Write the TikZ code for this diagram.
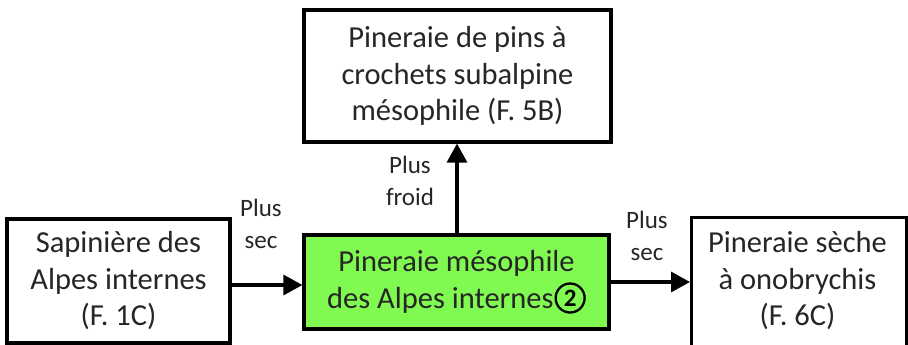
\documentclass[tikz,border=0pt]{standalone}
\usepackage{fontspec}
\setmainfont{Carlito}
\usetikzlibrary{arrows.meta}
\definecolor{boxgreen}{RGB}{128,250,80}
\definecolor{txt}{RGB}{38,38,38}
\tikzset{
  box/.style={draw=black, line width=3.2pt, fill=white, align=center, inner sep=0pt,
    text=txt, font=\fontsize{30.5}{36.5}\selectfont},
  lab/.style={align=center, text=txt, font=\fontsize{25}{32}\selectfont, inner sep=0pt},
  arr/.style={line width=3.2pt, -{Triangle[length=19pt,width=20pt]}},
  numcirc/.style={draw=black, circle, line width=2.3pt, minimum size=29pt, inner sep=0pt,
    text=black, font=\bfseries\fontsize{25}{25}\selectfont}
}
\newcommand{\circnum}[1]{\tikz[baseline={([yshift=-10pt]cn.center)}]\node[numcirc] (cn) {#1};}
\begin{document}
\begin{tikzpicture}[x=1pt,y=-1pt]
\useasboundingbox (0,0) rectangle (908,345);
\begin{scope}
\clip (0,0) rectangle (908,345);
\node[box, minimum width=307pt, minimum height=132pt] (top) at (457.5,76) {Pineraie de pins à\\crochets subalpine\\mésophile (F. 5B)};
\node[box, minimum width=223pt, minimum height=124pt] (left) at (118.5,281) {Sapinière des\\Alpes internes\\(F. 1C)};
\node[box, fill=boxgreen, minimum width=305pt, minimum height=94pt] (mid) at (456.5,282) {Pineraie mésophile\\des Alpes internes\hspace{1pt}\circnum{2}};
\node[box, minimum width=215pt, minimum height=140pt, anchor=north west] (right) at (690,216) {};
\node[box, draw=none, fill=none] (righttext) at (797.5,281) {Pineraie sèche\\à onobrychis\\(F. 6C)};
\end{scope}
\draw[arr] (left.east |- 0,285) -- (mid.west |- 0,285);
\draw[arr] (mid.east |- 0,282) -- (right.west |- 0,282);
\draw[arr] (mid.north -| 457,0) -- (top.south -| 457,0);
\node[lab] (lab1) at (261,224) {Plus\\sec};
\node[lab] (lab2) at (410,181) {Plus\\froid};
\node[lab] (lab3) at (647,236) {Plus\\sec};
\end{tikzpicture}
\end{document}
